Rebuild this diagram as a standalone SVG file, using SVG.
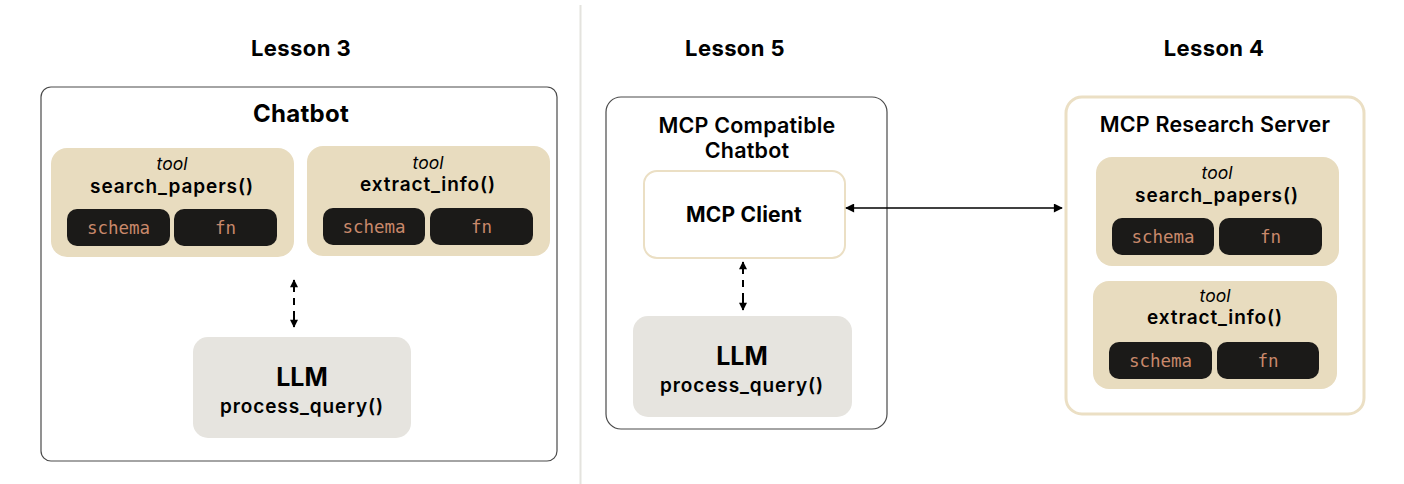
<svg xmlns="http://www.w3.org/2000/svg" width="1404" height="484" viewBox="0 0 1404 484">
<defs>
<style>
.t{font-family:Inter,"Noto Sans",sans-serif;fill:#000;text-anchor:middle}
.h{font-size:22px;font-weight:700;letter-spacing:0.4px}
.cb{font-size:24px;font-weight:700;letter-spacing:0.3px}
.st{font-size:21.5px;font-weight:600;letter-spacing:0.2px}
.cl{font-size:21px;font-weight:700;letter-spacing:0.2px}
.tl{font-size:17.5px;font-style:italic;font-weight:400}
.fn{font-size:19px;font-weight:600;letter-spacing:0.9px}
.llm{font-size:25px;font-weight:700}
.m{font-family:"DejaVu Sans Mono","Liberation Mono",monospace;font-size:17.5px;fill:#C9896B;text-anchor:middle}
.tool{fill:#E8DCBF}
.pill{fill:#1B1A18}
.llmbox{fill:#E6E4DF}
.conn{stroke:#000;stroke-width:1.5;fill:none}
.dash{stroke:#000;stroke-width:2;fill:none;stroke-dasharray:12 6 7 6 17}
</style>
<marker id="ah" viewBox="0 0 10 10" refX="9" refY="5" markerWidth="9" markerHeight="8" orient="auto-start-reverse" markerUnits="userSpaceOnUse">
<path d="M0,0 L10,5 L0,10 z" fill="#000"/>
</marker>
<marker id="ah2" viewBox="0 0 10 10" refX="9" refY="5" markerWidth="10" markerHeight="9" orient="auto-start-reverse" markerUnits="userSpaceOnUse">
<path d="M0,0 L10,5 L0,10 z" fill="#000"/>
</marker>
</defs>
<rect width="1404" height="484" fill="#fff"/>
<line x1="580.5" y1="5" x2="580.5" y2="484" stroke="#E4E3DE" stroke-width="2"/>

<g id="titles">
<text class="t h" x="301" y="56">Lesson 3</text>
<text class="t h" x="735" y="56">Lesson 5</text>
<text class="t h" x="1214" y="56">Lesson 4</text>
</g>

<g id="lesson3-chatbot">
<rect x="41" y="87" width="516" height="374" rx="10" fill="#fff" stroke="#4a4a4a" stroke-width="1.2"/>
<text class="t cb" x="301" y="122">Chatbot</text>
</g>
<g id="l3-tool-search">
<rect class="tool" x="51" y="148" width="243" height="109" rx="16"/>
<text class="t tl" x="172" y="170">tool</text>
<text class="t fn" x="172" y="193">search_papers()</text>
<rect class="pill" x="67" y="209" width="103" height="37" rx="10"/>
<text class="m" x="118.5" y="234">schema</text>
<rect class="pill" x="174" y="209" width="103" height="37" rx="10"/>
<text class="m" x="225.5" y="234">fn</text>
</g>
<g id="l3-tool-extract">
<rect class="tool" x="307" y="146" width="243" height="110" rx="16"/>
<text class="t tl" x="428" y="169">tool</text>
<text class="t fn" x="428" y="191">extract_info()</text>
<rect class="pill" x="323" y="208" width="102" height="37" rx="10"/>
<text class="m" x="374" y="233">schema</text>
<rect class="pill" x="430" y="208" width="103" height="37" rx="10"/>
<text class="m" x="481.5" y="233">fn</text>
</g>
<g id="l3-llm">
<rect class="llmbox" x="193" y="337" width="218" height="101" rx="15"/>
<text class="t llm" x="302" y="386">LLM</text>
<text class="t fn" x="302" y="413">process_query()</text>
</g>

<g id="lesson5-chatbot">
<rect x="606" y="97" width="281" height="332" rx="15" fill="#fff" stroke="#4a4a4a" stroke-width="1.2"/>
<text class="t st" x="747" y="133">MCP Compatible</text>
<text class="t st" x="747" y="158">Chatbot</text>
</g>
<g id="l5-mcp-client">
<rect x="644" y="171" width="201" height="87" rx="13" fill="#fff" stroke="#EBDFC4" stroke-width="2"/>
<text class="t cl" x="744" y="222">MCP Client</text>
</g>
<g id="l5-llm">
<rect class="llmbox" x="633" y="316" width="219" height="101" rx="15"/>
<text class="t llm" x="742" y="365">LLM</text>
<text class="t fn" x="742" y="392">process_query()</text>
</g>

<g id="lesson4-server">
<rect x="1066" y="97" width="298" height="317" rx="16" fill="#fff" stroke="#EBDFC4" stroke-width="3"/>
<text class="t st" x="1215" y="132">MCP Research Server</text>
</g>
<g id="l4-tool-search">
<rect class="tool" x="1096" y="157" width="243" height="109" rx="16"/>
<text class="t tl" x="1217" y="179">tool</text>
<text class="t fn" x="1217" y="202">search_papers()</text>
<rect class="pill" x="1112" y="218" width="102" height="37" rx="10"/>
<text class="m" x="1163" y="243">schema</text>
<rect class="pill" x="1219" y="218" width="103" height="37" rx="10"/>
<text class="m" x="1270.5" y="243">fn</text>
</g>
<g id="l4-tool-extract">
<rect class="tool" x="1093" y="281" width="244" height="108" rx="16"/>
<text class="t tl" x="1215" y="302">tool</text>
<text class="t fn" x="1215" y="324">extract_info()</text>
<rect class="pill" x="1109" y="342" width="103" height="37" rx="10"/>
<text class="m" x="1160.5" y="367">schema</text>
<rect class="pill" x="1217" y="342" width="102" height="37" rx="10"/>
<text class="m" x="1268" y="367">fn</text>
</g>

<g id="connectors">
<line class="dash" x1="294" y1="280" x2="294" y2="327" marker-start="url(#ah)" marker-end="url(#ah)"/>
<line class="dash" x1="743" y1="262" x2="743" y2="310" marker-start="url(#ah)" marker-end="url(#ah)"/>
<line class="conn" x1="846" y1="208" x2="1062" y2="208" marker-start="url(#ah2)" marker-end="url(#ah2)"/>
</g>
</svg>
